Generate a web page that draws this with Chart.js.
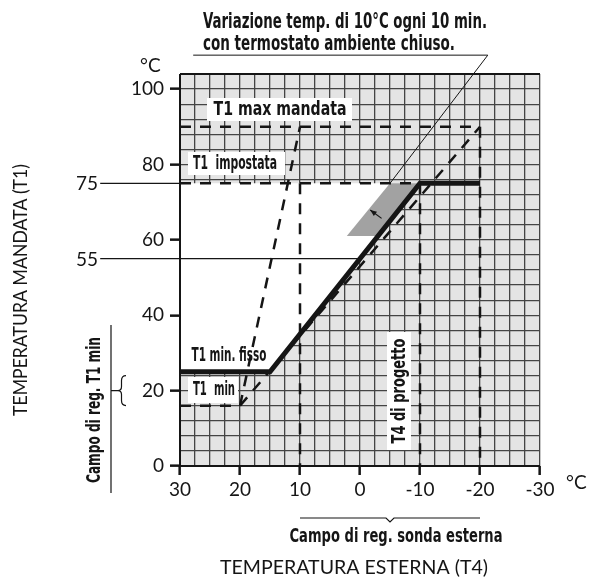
<!DOCTYPE html>
<html>
<head>
<meta charset="utf-8">
<script src="https://cdn.jsdelivr.net/npm/chart.js@4.4.1/dist/chart.umd.min.js"></script>
<style>
  html, body { margin: 0; padding: 0; background: #fff; }
  canvas { display: block; }
</style>
</head>
<body>
<canvas id="grafico" width="596" height="584"></canvas>
<script>
// curva di regolazione (T4 esterna -> T1 mandata)
const curvaT4 = [30, 15, -10, -20];
const curvaT1 = [25, 25, 75, 75];

// linee tratteggiate
const maxMandataT4 = [30, -20, -20];
const maxMandataT1 = [90, 90, 0];
const impostataT4 = [30, -10, -10];
const impostataT1 = [75, 75, 0];
const verticale10T4 = [10, 10];
const verticale10T1 = [75, 0];
const minT4 = [30, 20];
const minT1 = [16, 16];
const rampaRipidaT4 = [20, 10];
const rampaRipidaT1 = [16, 90];
const rampaLentaT4 = [20, -20];
const rampaLentaT1 = [16, 90];

// linee sottili di riferimento
const rif75T4 = [43.3, 30];
const rif75T1 = [75, 75];
const rif55T4 = [43.3, 0];
const rif55T1 = [55, 55];
const richiamoT4 = [27.8, -21.3, -5];
const richiamoT1 = [109, 109, 75];

// zone
const campoVariazioneT4 = [-5, -10, -3, 2.2];
const campoVariazioneT1 = [75, 75, 61, 61];
const zonaBiancaT4 = [30, 15, -10, 30];
const zonaBiancaT1 = [25, 25, 75, 75];

// etichette assi
const etichetteX = [30, 20, 10, 0, -10, -20, -30];
const etichetteY = [0, 20, 40, 60, 80, 100];

const punti = (xs, ys) => xs.map((x, i) => ({ x: x, y: ys[i] }));

const nero = '#151515';
const tratteggio = [11, 9];
const famigliaNum = 'Lato, "Open Sans", sans-serif';
const fontNum = '19px ' + famigliaNum;
const famigliaBold = '"DejaVu Sans Condensed", "Liberation Sans", sans-serif';
const fontBold = 'bold 20px ' + famigliaBold;

function linea(xs, ys, opts) {
  return Object.assign({
    data: punti(xs, ys),
    showLine: true,
    borderColor: nero,
    borderWidth: 2.5,
    pointRadius: 0,
    fill: false,
    clip: false,
    order: 1
  }, opts);
}

function box(ctx, x, y, w, h) {
  ctx.save();
  ctx.fillStyle = '#fff';
  ctx.fillRect(x, y, w, h);
  ctx.restore();
}

// scrive il testo stringendolo in orizzontale fino alla larghezza voluta
function testo(ctx, s, x, y, larghezza, rot) {
  const w = ctx.measureText(s).width;
  ctx.save();
  ctx.translate(x, y);
  if (rot) ctx.rotate(rot);
  ctx.scale(larghezza / w, 1);
  ctx.fillText(s, 0, 0);
  ctx.restore();
}

const decorazioni = {
  id: 'decorazioni',
  beforeDraw(chart) {
    const { ctx, chartArea: a } = chart;
    ctx.save();
    ctx.fillStyle = '#e4e4e4';
    ctx.fillRect(a.left, a.top, a.right - a.left, a.bottom - a.top);
    ctx.restore();
  },
  afterDatasetsDraw(chart) {
    const { ctx, chartArea: a, scales } = chart;
    const sx = scales.x, sy = scales.y;
    ctx.save();
    // assi
    ctx.strokeStyle = nero;
    ctx.lineWidth = 2;
    ctx.beginPath();
    ctx.moveTo(a.left, a.top);
    ctx.lineTo(a.left, a.bottom);
    ctx.lineTo(a.right, a.bottom);
    ctx.moveTo(a.left, a.top);
    ctx.lineTo(a.right, a.top);
    ctx.stroke();

    // freccia nella zona grigia
    const x1 = sx.getPixelForValue(-3.6), y1 = sy.getPixelForValue(65.7);
    const x2 = sx.getPixelForValue(-1.7), y2 = sy.getPixelForValue(67.9);
    ctx.lineWidth = 1.2;
    ctx.beginPath();
    ctx.moveTo(x1, y1);
    ctx.lineTo(x2, y2);
    ctx.stroke();
    const ang = Math.atan2(y2 - y1, x2 - x1);
    ctx.fillStyle = nero;
    ctx.beginPath();
    ctx.moveTo(x2, y2);
    ctx.lineTo(x2 - 7 * Math.cos(ang - 0.4), y2 - 7 * Math.sin(ang - 0.4));
    ctx.lineTo(x2 - 7 * Math.cos(ang + 0.4), y2 - 7 * Math.sin(ang + 0.4));
    ctx.closePath();
    ctx.fill();

    // etichette con fondo bianco
    ctx.font = fontBold;
    ctx.textBaseline = 'middle';
    ctx.textAlign = 'center';
    box(ctx, 207, 98, 145, 23);
    box(ctx, 188, 152, 97, 23);
    box(ctx, 188, 377, 50, 26);
    box(ctx, 387, 332, 24, 118);
    ctx.fillStyle = nero;
    testo(ctx, 'T1 max mandata', 280, 110, 133);
    testo(ctx, 'T1  impostata', 235, 164, 84);
    testo(ctx, 'T1  min', 214, 390, 42);
    testo(ctx, 'T1 min. fisso', 229, 356, 75);
    testo(ctx, 'T4 di progetto', 400, 391, 105, -Math.PI / 2);
    ctx.restore();
  },
  afterDraw(chart) {
    const { ctx, scales } = chart;
    const sx = scales.x, sy = scales.y;
    ctx.save();
    ctx.fillStyle = nero;
    ctx.strokeStyle = nero;

    // titolo in alto
    ctx.font = 'bold 21px ' + famigliaBold;
    ctx.textAlign = 'left';
    ctx.textBaseline = 'alphabetic';
    testo(ctx, 'Variazione temp. di 10°C ogni 10 min.', 203, 28, 284);
    testo(ctx, 'con termostato ambiente chiuso.', 203, 50, 252);

    // unità
    ctx.font = fontNum;
    ctx.textBaseline = 'middle';
    ctx.fillText('°C', 140, 66);
    ctx.fillText('°C', 566, 483);
    ctx.textAlign = 'right';
    ctx.fillText('75', 98, sy.getPixelForValue(75) + 1);
    ctx.fillText('55', 98, sy.getPixelForValue(55) + 1);

    // titoli assi
    ctx.font = '19px ' + famigliaNum;
    ctx.textAlign = 'center';
    testo(ctx, 'TEMPERATURA ESTERNA (T4)', 354, 568, 268);
    testo(ctx, 'TEMPERATURA MANDATA (T1)', 21, 290, 252, -Math.PI / 2);

    // campo di regolazione sonda esterna
    const xa = sx.getPixelForValue(10), xb = sx.getPixelForValue(-20), xm = (xa + xb) / 2;
    ctx.lineWidth = 1.2;
    ctx.beginPath();
    ctx.moveTo(xa, 518);
    ctx.lineTo(xm - 4, 518);
    ctx.lineTo(xm, 522);
    ctx.lineTo(xm + 4, 518);
    ctx.lineTo(xb, 518);
    ctx.stroke();
    ctx.font = fontBold;
    testo(ctx, 'Campo di reg. sonda esterna', 396, 537, 213);

    // campo di regolazione T1 min
    ctx.beginPath();
    ctx.moveTo(111, 325);
    ctx.lineTo(111, 493);
    const yb = sy.getPixelForValue(20);
    ctx.moveTo(111, yb);
    ctx.lineTo(118, yb);
    ctx.moveTo(126, yb - 15);
    ctx.quadraticCurveTo(121.5, yb - 15, 121.5, yb - 10);
    ctx.lineTo(121.5, yb - 4);
    ctx.quadraticCurveTo(121.5, yb, 118, yb);
    ctx.quadraticCurveTo(121.5, yb, 121.5, yb + 4);
    ctx.lineTo(121.5, yb + 10);
    ctx.quadraticCurveTo(121.5, yb + 15, 126, yb + 15);
    ctx.stroke();
    testo(ctx, 'Campo di reg. T1 min', 95, 410, 146, -Math.PI / 2);
    ctx.restore();
  }
};

new Chart(document.getElementById('grafico'), {
  type: 'scatter',
  data: {
    datasets: [
      linea(curvaT4, curvaT1, { borderWidth: 5, order: 0, borderJoinStyle: 'miter' }),
      linea(maxMandataT4, maxMandataT1, { borderDash: tratteggio }),
      linea(impostataT4, impostataT1, { borderDash: tratteggio }),
      linea(verticale10T4, verticale10T1, { borderDash: tratteggio }),
      linea(minT4, minT1, { borderDash: tratteggio }),
      linea(rampaRipidaT4, rampaRipidaT1, { borderDash: tratteggio }),
      linea(rampaLentaT4, rampaLentaT1, { borderDash: tratteggio }),
      linea(rif75T4, rif75T1, { borderWidth: 1.2 }),
      linea(rif55T4, rif55T1, { borderWidth: 1.2 }),
      linea(richiamoT4, richiamoT1, { borderWidth: 1 }),
      linea(campoVariazioneT4, campoVariazioneT1, {
        borderColor: 'rgba(0,0,0,0)', backgroundColor: '#a2a2a2', fill: 'shape', order: 2
      }),
      linea(zonaBiancaT4, zonaBiancaT1, {
        borderColor: 'rgba(0,0,0,0)', backgroundColor: '#ffffff', fill: 'shape', clip: 0, order: 3
      })
    ]
  },
  options: {
    responsive: false,
    animation: false,
    devicePixelRatio: 1,
    layout: { padding: { left: 120, right: 56, top: 74, bottom: 78 } },
    plugins: { legend: { display: false }, tooltip: { enabled: false } },
    scales: {
      x: {
        type: 'linear',
        reverse: true,
        min: -30,
        max: 30,
        afterFit(s) { s.height = 40; },
        border: { display: false },
        grid: {
          color: '#444',
          lineWidth: 1.3,
          tickLength: 9,
          tickWidth: 2.5,
          tickColor: c => (c.tick && etichetteX.includes(c.tick.value)) ? nero : 'rgba(0,0,0,0)'
        },
        ticks: {
          stepSize: 2.5,
          autoSkip: false,
          maxRotation: 0,
          padding: 3,
          color: nero,
          font: { family: famigliaNum, size: 19 },
          callback: v => etichetteX.includes(v) ? String(v) : ''
        }
      },
      y: {
        min: 0,
        max: 104,
        afterFit(s) { s.width = 60; },
        border: { display: false },
        grid: {
          color: '#444',
          lineWidth: 1.3,
          tickLength: 10,
          tickWidth: 2.5,
          tickColor: c => (c.tick && etichetteY.includes(c.tick.value)) ? nero : 'rgba(0,0,0,0)'
        },
        ticks: {
          stepSize: 4,
          autoSkip: false,
          padding: 6,
          color: nero,
          font: { family: famigliaNum, size: 19 },
          callback: v => etichetteY.includes(v) ? String(v) : ''
        }
      }
    }
  },
  plugins: [decorazioni]
});
</script>
</body>
</html>
